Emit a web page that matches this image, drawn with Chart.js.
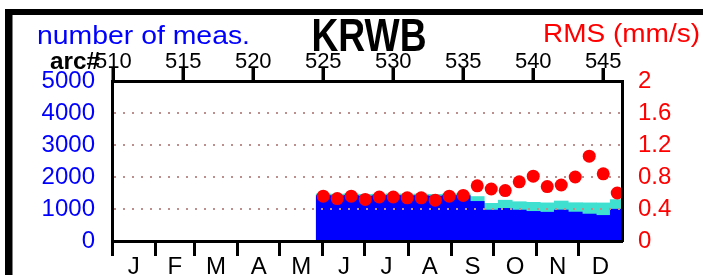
<!DOCTYPE html>
<html>
<head>
<meta charset="utf-8">
<script src="https://cdn.jsdelivr.net/npm/chart.js@4.4.1/dist/chart.umd.min.js"></script>
<style>
html, body { margin: 0; padding: 0; background: #fff; }
</style>
</head>
<body>
<canvas id="myChart" width="703" height="275"></canvas>
<script>
// arcs and values
let arcs = [525, 526, 527, 528, 529, 530, 531, 532, 533, 534, 535, 536, 537, 538, 539, 540, 541, 542, 543, 544, 545, 546];
let measTotal = [1470, 1465, 1475, 1455, 1465, 1475, 1465, 1465, 1455, 1470, 1475, 1390, 1177, 1275, 1228, 1208, 1192, 1250, 1197, 1192, 1190, 1295];
let measUsed = [1420, 1415, 1425, 1405, 1415, 1425, 1415, 1415, 1405, 1420, 1420, 1238, 967, 1020, 967, 926, 900, 969, 905, 842, 800, 994];
let rms = [0.56, 0.53, 0.56, 0.52, 0.55, 0.55, 0.54, 0.54, 0.51, 0.56, 0.57, 0.69, 0.65, 0.63, 0.74, 0.81, 0.68, 0.70, 0.80, 1.06, 0.84, 0.60];

let arcTicks = [510, 515, 520, 525, 530, 535, 540, 545];
let countTicks = [0, 1000, 2000, 3000, 4000, 5000];
let rmsTicks = [0, 0.4, 0.8, 1.2, 1.6, 2];
let monthNames = ['J', 'F', 'M', 'A', 'M', 'J', 'J', 'A', 'S', 'O', 'N', 'D'];
let monthStarts = [0, 31, 59, 90, 120, 151, 181, 212, 243, 273, 304, 334, 365];

Chart.defaults.font.family = "'Liberation Sans', Arial, sans-serif";

const FONT = "'Liberation Sans', Arial, sans-serif";
const GRID = '#bc8f8f';

function toPoints(xs, ys) {
    return xs.map((x, i) => ({x: x, y: ys[i]}));
}

// month axis: tick marks at month starts, letters in the middle of each month
function monthTickList() {
    let list = [];
    for (let i = 0; i < monthNames.length; i++) {
        list.push({value: monthStarts[i], name: '', mark: true});
        list.push({value: (monthStarts[i] + monthStarts[i + 1]) / 2, name: monthNames[i], mark: false});
    }
    return list;
}

function fitText(ctx, text, x, y, font, color, width) {
    ctx.save();
    ctx.font = font;
    ctx.fillStyle = color;
    ctx.textAlign = 'left';
    ctx.textBaseline = 'alphabetic';
    let w = ctx.measureText(text).width;
    ctx.translate(x, y);
    ctx.scale(width / w, 1);
    ctx.fillText(text, 0, 0);
    ctx.restore();
}

// header texts, black frame and the arc tick marks above the plot
const headerPlugin = {
    id: 'header',
    afterDraw(chart) {
        let ctx = chart.ctx;
        let xArc = chart.scales.xArc;
        let area = chart.chartArea;
        ctx.save();
        ctx.fillStyle = '#000';
        ctx.fillRect(5, 9, 703 - 5, 6);
        ctx.fillRect(5, 9, 7.5, 275);
        arcTicks.forEach(v => {
            let px = Math.round(xArc.getPixelForValue(v));
            ctx.fillRect(px - 1.5, area.top - 13, 3, 13);
        });
        ctx.restore();
        fitText(ctx, 'number of meas.', 37, 44, '25px ' + FONT, '#0000ff', 213);
        fitText(ctx, 'KRWB', 311.5, 51, 'bold 46px ' + FONT, '#000', 115);
        fitText(ctx, 'RMS (mm/s)', 543, 42, '25.5px ' + FONT, '#ff0000', 157);
        fitText(ctx, 'arc#', 50, 69, 'bold 24px ' + FONT, '#000', 50);
    }
};

// dotted grid lines sit over the bars but under the red dots
const gridOverBars = {
    id: 'gridOverBars',
    beforeDatasetDraw(chart, args) {
        if (args.meta.type === 'scatter') {
            chart.scales.yN.drawGrid(chart.chartArea);
        }
    }
};

let ctx = document.getElementById('myChart').getContext('2d');
let chart = new Chart(ctx, {
    type: 'bar',
    data: {
        datasets: [{
            type: 'scatter',
            label: 'RMS',
            data: toPoints(arcs, rms),
            xAxisID: 'xArc',
            yAxisID: 'yR',
            pointRadius: 6.5,
            pointBackgroundColor: '#ff0000',
            pointBorderWidth: 0,
            clip: 0,
            order: 0
        }, {
            label: 'used',
            data: toPoints(arcs, measUsed),
            xAxisID: 'xArc',
            yAxisID: 'yN',
            backgroundColor: '#0000ff',
            borderWidth: 0,
            grouped: false,
            barPercentage: 1,
            categoryPercentage: 1,
            clip: 0,
            order: 1
        }, {
            label: 'total',
            data: toPoints(arcs, measTotal),
            xAxisID: 'xArc',
            yAxisID: 'yN',
            backgroundColor: '#40e0d0',
            borderWidth: 0,
            grouped: false,
            barPercentage: 1,
            categoryPercentage: 1,
            clip: 0,
            order: 2
        }]
    },
    options: {
        responsive: false,
        animation: false,
        devicePixelRatio: 1,
        layout: {padding: {left: 0, right: 0, top: 51, bottom: 0}},
        plugins: {
            legend: {display: false},
            tooltip: {enabled: false}
        },
        scales: {
            xArc: {
                type: 'linear',
                position: 'top',
                min: 509.91,
                max: 546.34,
                offset: false,
                afterBuildTicks: axis => { axis.ticks = arcTicks.map(v => ({value: v})); },
                afterFit: axis => { axis.height = 30; },
                ticks: {color: '#000', font: {size: 22}, padding: -7.5, autoSkip: false, callback: v => String(v)},
                grid: {drawOnChartArea: false, offset: false, tickLength: 13, tickWidth: 3, tickColor: '#000'},
                border: {display: true, color: '#000', width: 3, z: 1}
            },
            xMonth: {
                type: 'linear',
                position: 'bottom',
                min: 0,
                max: 365,
                offset: false,
                afterBuildTicks: axis => { axis.ticks = monthTickList(); },
                afterFit: axis => { axis.height = 34; },
                ticks: {
                    color: '#000',
                    font: {size: 24},
                    padding: -3,
                    autoSkip: false,
                    maxRotation: 0,
                    callback: (value, index, ticks) => ticks[index].name
                },
                grid: {
                    drawOnChartArea: false,
                    offset: false,
                    tickLength: 15,
                    tickWidth: 3,
                    tickColor: c => (c.tick && c.tick.mark) ? '#000' : 'rgba(0,0,0,0)'
                },
                border: {display: true, color: '#000', width: 3, z: 1}
            },
            yN: {
                type: 'linear',
                position: 'left',
                min: 0,
                max: 5000,
                afterBuildTicks: axis => { axis.ticks = countTicks.map(v => ({value: v})); },
                afterFit: axis => { axis.width = 112; },
                ticks: {color: '#0000ff', font: {size: 24}, padding: 17, callback: v => String(v)},
                grid: {
                    drawTicks: false,
                    lineWidth: 2,
                    color: c => (c.tick && (c.tick.value === 0 || c.tick.value === 5000)) ? 'rgba(0,0,0,0)' : GRID
                },
                border: {display: true, color: '#000', width: 3, z: 1, dash: [2, 7]}
            },
            yR: {
                type: 'linear',
                position: 'right',
                min: 0,
                max: 2,
                afterBuildTicks: axis => { axis.ticks = rmsTicks.map(v => ({value: v})); },
                afterFit: axis => { axis.width = 81; },
                ticks: {color: '#ff0000', font: {size: 24}, padding: 16, callback: v => String(v)},
                grid: {display: false, drawTicks: false},
                border: {display: true, color: '#000', width: 3, z: 1}
            }
        }
    },
    plugins: [gridOverBars, headerPlugin]
});
</script>
</body>
</html>
